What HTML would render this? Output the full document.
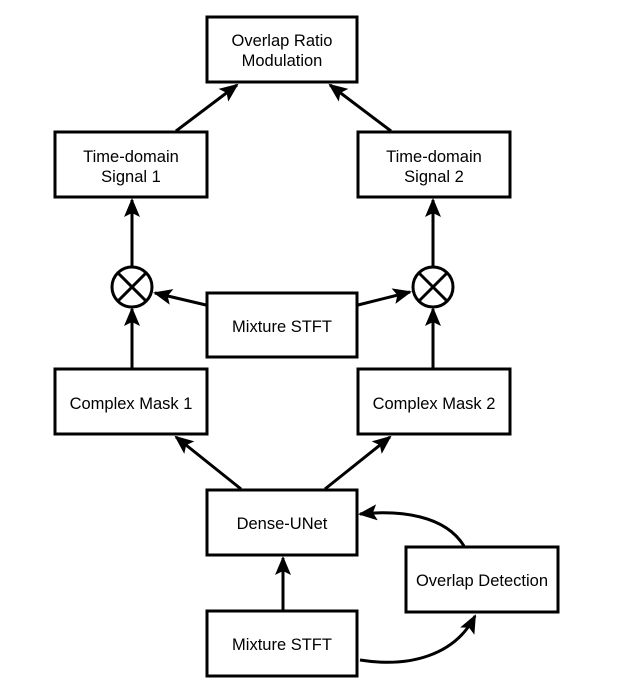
<!DOCTYPE html>
<html><head><style>
body{margin:0;background:#fff;}
svg text{font-family:"Liberation Sans",Arial,sans-serif;font-size:16.5px;fill:#000;text-anchor:middle;}
</style></head><body>
<svg width="623" height="682" viewBox="0 0 623 682" xmlns="http://www.w3.org/2000/svg">
<defs>
<marker id="b" markerWidth="19" markerHeight="16" refX="17" refY="8" orient="auto" markerUnits="userSpaceOnUse">
<path d="M0,0 L19,8 L0,16 L4,8 z" fill="#000"/>
</marker>
</defs>
<g fill="none" stroke="#000" stroke-width="3">
<rect x="207" y="17" width="150" height="65"/>
<rect x="55" y="132" width="152" height="65"/>
<rect x="358" y="132" width="152" height="65"/>
<rect x="207" y="293" width="150" height="64"/>
<rect x="55" y="369" width="152" height="65"/>
<rect x="358" y="369" width="152" height="65"/>
<rect x="207" y="490" width="150" height="65"/>
<rect x="406" y="547" width="152" height="65"/>
<rect x="207" y="611" width="150" height="65"/>
<circle cx="132" cy="287" r="20"/>
<circle cx="433" cy="287" r="20"/>
<line x1="118" y1="273" x2="146" y2="301"/><line x1="146" y1="273" x2="118" y2="301"/>
<line x1="419" y1="273" x2="447" y2="301"/><line x1="447" y1="273" x2="419" y2="301"/>
<g marker-end="url(#b)">
<line x1="176" y1="131" x2="237" y2="85"/>
<line x1="391" y1="131" x2="330" y2="85"/>
<line x1="132" y1="266" x2="132" y2="200"/>
<line x1="433" y1="266" x2="433" y2="200"/>
<line x1="132" y1="368" x2="132" y2="309"/>
<line x1="433" y1="368" x2="433" y2="309"/>
<line x1="206" y1="305" x2="155" y2="293"/>
<line x1="358" y1="305" x2="410" y2="292"/>
<line x1="241" y1="489" x2="176" y2="437"/>
<line x1="325" y1="489" x2="390" y2="437"/>
<line x1="283" y1="610" x2="283" y2="558"/>
<path d="M464,546 C445,515 400,510 360,514"/>
<path d="M360,660 C410,668 455,655 475,616"/>
</g>
</g>
<text x="282" y="46">Overlap Ratio</text>
<text x="282" y="66">Modulation</text>
<text x="131" y="162">Time-domain</text>
<text x="131" y="182">Signal 1</text>
<text x="434" y="162">Time-domain</text>
<text x="434" y="182">Signal 2</text>
<text x="282" y="332">Mixture STFT</text>
<text x="131" y="409">Complex Mask 1</text>
<text x="434" y="409">Complex Mask 2</text>
<text x="282" y="529">Dense-UNet</text>
<text x="482" y="586">Overlap Detection</text>
<text x="282" y="650">Mixture STFT</text>
</svg>
</body></html>
